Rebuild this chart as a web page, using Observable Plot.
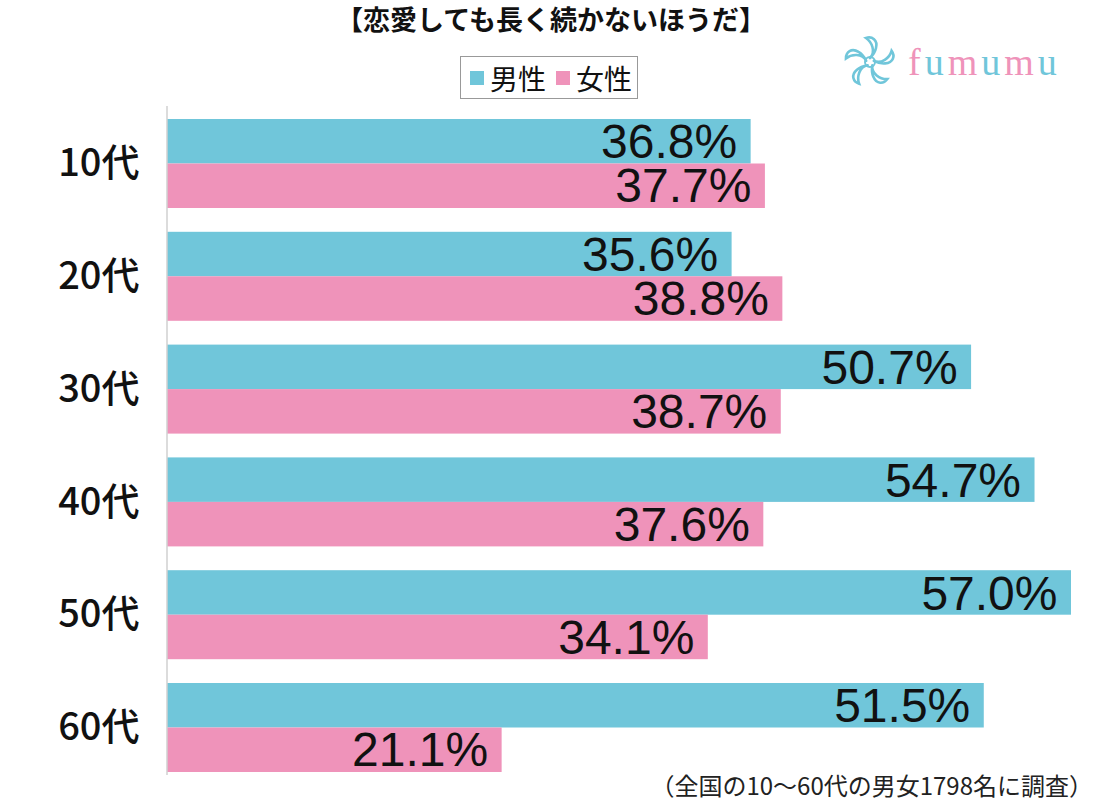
<!DOCTYPE html>
<html>
<head>
<meta charset="utf-8">
<script src="https://cdn.jsdelivr.net/npm/d3@7"></script>
<script src="https://cdn.jsdelivr.net/npm/@observablehq/plot@0.6"></script>
<style>
  html, body { margin: 0; padding: 0; background: #fff; }
  #wrap { position: relative; width: 1102px; height: 800px; font-family: 'Noto Sans CJK JP', sans-serif; }
  #chart { position: absolute; left: 0; top: 0; }
  #title { position: absolute; left: 0; top: 5px; width: 1102px; text-align: center; font-size: 27px; font-weight: bold; line-height: 28px; color: #111; white-space: nowrap; }
  #legend { position: absolute; left: 460px; top: 56px; width: 178px; height: 43px; box-sizing: border-box; border: 1.5px solid #999; display: flex; align-items: center; padding-left: 9px; font-size: 28px; color: #111; white-space: nowrap; }
  #legend .sw { width: 14px; height: 14px; display: inline-block; margin-right: 6px; flex: none; }
  #legend .lb { margin-right: 10px; line-height: 1; white-space: nowrap; }
  #caption { position: absolute; right: 9px; top: 772px; font-size: 24px; line-height: 25px; color: #222; white-space: nowrap; }
  #logo { position: absolute; left: 840px; top: 32px; width: 240px; height: 60px; }
  #logo .txt { position: absolute; left: 68px; top: 8px; font-family: 'Liberation Serif', serif; font-size: 38px; letter-spacing: 4px; line-height: 44px; white-space: nowrap; }
</style>
</head>
<body>
<div id="wrap">
  <div id="chart"></div>
  <div id="title"></div>
  <div id="legend"></div>
  <div id="logo">
    <svg width="60" height="60" viewBox="-30 -30 60 60" style="position:absolute;left:0;top:0">
      <g fill="none" stroke="#70c6da" stroke-width="2.6" stroke-linecap="round">
        <path d="M0,-4 C6,-10 2,-20 -4,-24 C2,-26 8,-22 6,-14 C5,-9 2,-6 0,-4" transform="rotate(0)"/>
        <path d="M0,-4 C6,-10 2,-20 -4,-24 C2,-26 8,-22 6,-14 C5,-9 2,-6 0,-4" transform="rotate(72)"/>
        <path d="M0,-4 C6,-10 2,-20 -4,-24 C2,-26 8,-22 6,-14 C5,-9 2,-6 0,-4" transform="rotate(144)"/>
        <path d="M0,-4 C6,-10 2,-20 -4,-24 C2,-26 8,-22 6,-14 C5,-9 2,-6 0,-4" transform="rotate(216)"/>
        <path d="M0,-4 C6,-10 2,-20 -4,-24 C2,-26 8,-22 6,-14 C5,-9 2,-6 0,-4" transform="rotate(288)"/>
        <circle r="5" stroke-width="2"/>
      </g>
    </svg>
    <div class="txt"><span style="color:#ef93ba">f</span><span style="color:#70c6da">u</span><span style="color:#ef93ba">m</span><span style="color:#70c6da">u</span><span style="color:#ef93ba">m</span><span style="color:#70c6da">u</span></div>
  </div>
  <div id="caption"></div>
</div>
<script>
const title = "【恋愛しても長く続かないほうだ】";
const caption = "（全国の10〜60代の男女1798名に調査）";
const ages = ["10代", "20代", "30代", "40代", "50代", "60代"];
const genders = ["男性", "女性"];
const maleValues = [36.8, 35.6, 50.7, 54.7, 57.0, 51.5];
const femaleValues = [37.7, 38.8, 38.7, 37.6, 34.1, 21.1];
const colors = ["#70c6da", "#ef93ba"];

const maleData = ages.map((a, i) => ({age: a, gender: genders[0], value: maleValues[i]}));
const femaleData = ages.map((a, i) => ({age: a, gender: genders[1], value: femaleValues[i]}));

document.getElementById("title").textContent = title;
document.getElementById("caption").textContent = caption;
const legend = document.getElementById("legend");
genders.forEach((g, i) => {
  const sw = document.createElement("span");
  sw.className = "sw";
  sw.style.background = colors[i];
  const lb = document.createElement("span");
  lb.className = "lb";
  lb.textContent = g;
  legend.appendChild(sw);
  legend.appendChild(lb);
});

const fmt = d => d.value.toFixed(1) + "%";
const labelFont = "'Liberation Sans', Arial, sans-serif";

const chart = Plot.plot({
  width: 1102,
  height: 800,
  marginTop: 119,
  marginBottom: 28,
  marginLeft: 167,
  marginRight: 31,
  style: {fontFamily: "'Noto Sans CJK JP', sans-serif", color: "#111", background: "transparent"},
  x: {domain: [0, 57], axis: null},
  y: {domain: ages, paddingInner: 0.211, paddingOuter: 0, round: false, axis: null},
  marks: [
    Plot.barX(maleData, {x: "value", y: "age", fill: colors[0], insetBottom: 44.5}),
    Plot.barX(femaleData, {x: "value", y: "age", fill: colors[1], insetTop: 44.5}),
    Plot.ruleX([0], {stroke: "#d0d0d0", strokeWidth: 1.5, insetTop: -13, insetBottom: -3, dx: -0.5}),
    Plot.text(maleData, {x: "value", y: "age", text: fmt, textAnchor: "end", dx: -14, dy: -21, fontSize: 48, fontFamily: labelFont, fill: "#111"}),
    Plot.text(femaleData, {x: "value", y: "age", text: fmt, textAnchor: "end", dx: -14, dy: 23, fontSize: 48, fontFamily: labelFont, fill: "#111"}),
    Plot.axisY({tickSize: 0, tickPadding: 28, fontSize: 38, fontWeight: 500, label: null, fill: "#111"})
  ]
});
document.getElementById("chart").appendChild(chart);
</script>
</body>
</html>
